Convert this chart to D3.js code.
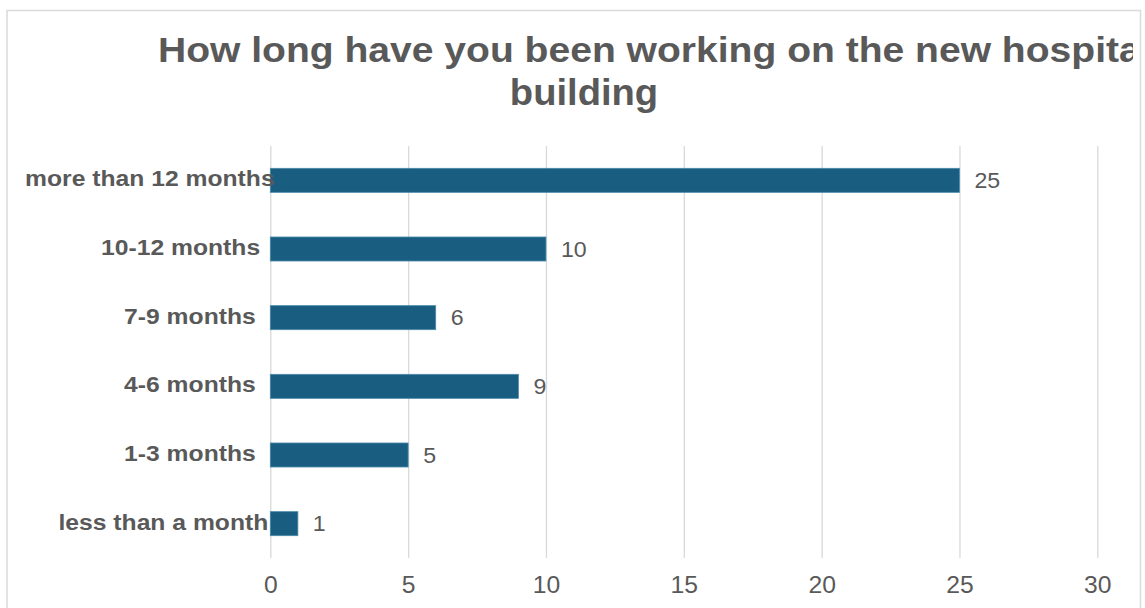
<!DOCTYPE html>
<html>
<head>
<meta charset="utf-8">
<script src="https://cdn.jsdelivr.net/npm/d3@7"></script>
<style>
  html, body { margin: 0; padding: 0; background: #ffffff; }
  svg { display: block; }
  text { font-family: "Liberation Sans", Arial, Helvetica, sans-serif; fill: #595959; }
</style>
</head>
<body>
<svg id="chart" width="1145" height="608"></svg>
<script>
// Survey answers: time spent working on the new hospital building
const categories = [
  "more than 12 months",
  "10-12 months",
  "7-9 months",
  "4-6 months",
  "1-3 months",
  "less than a month"
];
const counts = [25, 10, 6, 9, 5, 1];
const tickValues = [0, 5, 10, 15, 20, 25, 30];
const titleLines = ["How long have you been working on the new hospital", "building"];

const svg = d3.select("#chart");
const W = 1145, H = 608;

// Chart frame
const frame = { left: 7, top: 10.5, right: 1140.5 };
svg.append("rect")
  .attr("x", frame.left).attr("y", frame.top)
  .attr("width", frame.right - frame.left).attr("height", H + 20)
  .attr("fill", "#ffffff")
  .attr("stroke", "#dcdcdc").attr("stroke-width", 1.6);

// Plot area
const plot = { left: 270.3, right: 1097.3, top: 146, bottom: 558 };

const x = d3.scaleLinear()
  .domain([0, 30])
  .range([plot.left, plot.right]);

const y = d3.scaleBand()
  .domain(categories)
  .range([plot.top, plot.bottom])
  .paddingInner(0.65)
  .paddingOuter(0.325);

// Title, clipped at the frame edge
svg.append("clipPath").attr("id", "titleClip")
  .append("rect").attr("x", 0).attr("y", 0).attr("width", 1133).attr("height", 140);

const titleG = svg.append("g").attr("clip-path", "url(#titleClip)");
const titleSx = 1.085;
titleG.append("g").attr("transform", "translate(158,62)")
  .append("text")
  .attr("transform", `scale(${titleSx},1)`)
  .attr("text-anchor", "start")
  .style("font-size", "36px").style("font-weight", "bold")
  .text(titleLines[0]);
titleG.append("g").attr("transform", "translate(584,105)")
  .append("text")
  .attr("transform", "scale(1.06,1)")
  .attr("text-anchor", "middle")
  .style("font-size", "36px").style("font-weight", "bold")
  .text(titleLines[1]);

// Vertical gridlines and value axis
const axis = d3.axisBottom(x)
  .tickValues(tickValues)
  .tickFormat(d3.format("d"))
  .tickSize(-(plot.bottom - plot.top))
  .tickPadding(18);

const axisG = svg.append("g")
  .attr("transform", `translate(0,${plot.bottom})`)
  .call(axis);
axisG.select(".domain").remove();
axisG.selectAll(".tick line")
  .attr("stroke", "#d9d9d9").attr("stroke-width", 1.3);
axisG.selectAll(".tick text")
  .attr("fill", "#595959")
  .attr("transform", "scale(1.05,1)")
  .style("font-size", "23.5px")
  .style("font-family", "\"Liberation Sans\", Arial, Helvetica, sans-serif");

// Bars
svg.append("g").selectAll("rect")
  .data(categories)
  .join("rect")
  .attr("x", x(0))
  .attr("y", d => y(d))
  .attr("width", (d, i) => x(counts[i]) - x(0))
  .attr("height", y.bandwidth())
  .attr("fill", "#195e80")
  .attr("stroke", "#4b8bab")
  .attr("stroke-width", 0.8);

// Value labels at the bar ends
svg.append("g").selectAll("g")
  .data(categories)
  .join("g")
  .attr("transform", (d, i) => `translate(${x(counts[i]) + 15},${y(d) + y.bandwidth() / 2 + 7.5})`)
  .append("text")
  .attr("transform", "scale(1.03,1)")
  .style("font-size", "22.5px")
  .text((d, i) => counts[i]);

// Category labels, right-aligned against the axis
const labelSx = 1.097, labelRight = 234.6, labelFit = 0.921;
const catG = svg.append("g").selectAll("g")
  .data(categories)
  .join("g");
catG.append("text")
  .attr("transform", `scale(${labelSx},1)`)
  .style("font-size", "22.5px").style("font-weight", "bold")
  .text(d => d);
catG.attr("transform", function(d) {
  const w = this.querySelector("text").getComputedTextLength();
  return `translate(${labelRight - labelFit * w},${y(d) + y.bandwidth() / 2 + 6})`;
});
</script>
</body>
</html>
